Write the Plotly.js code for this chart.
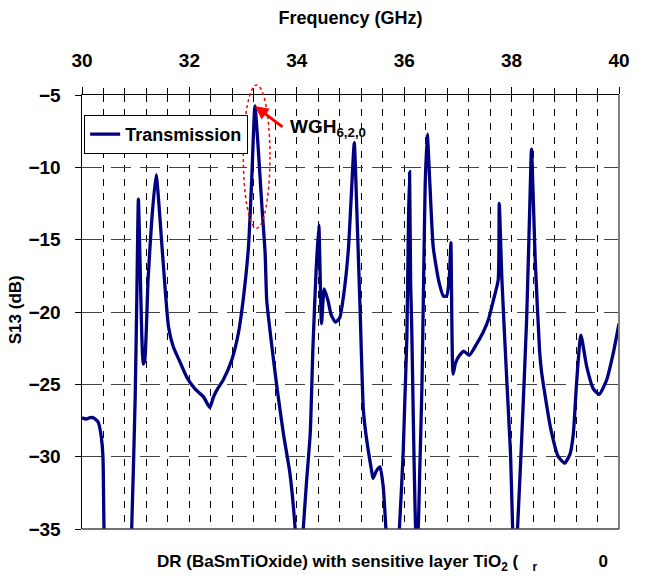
<!DOCTYPE html>
<html>
<head>
<meta charset="utf-8">
<script src="https://cdn.plot.ly/plotly-3.0.1.min.js"></script>
<style>html,body{margin:0;padding:0;background:#fff;}#chart{width:649px;height:581px;}</style>
</head>
<body>
<div id="chart"></div>
<script>
// Frequency (GHz)
const freq = [30.00,30.08,30.15,30.22,30.30,30.35,30.39,30.41,30.44,
  30.89,30.925,30.99,31.02,31.05,31.08,31.11,31.14,31.17,31.23,31.30,31.38,
  31.50,31.61,31.70,31.83,31.95,32.10,32.26,32.38,32.44,32.51,32.63,32.79,32.91,33.00,
  33.10,33.16,33.22,33.28,33.35,33.41,33.44,33.53,33.63,33.75,33.87,33.97,34.00,
  34.09,34.12,34.18,34.25,34.30,34.36,34.41,34.46,34.51,34.58,34.64,34.72,34.80,34.87,34.96,35.01,35.07,
  35.12,35.18,35.24,35.30,35.39,35.42,35.48,35.55,35.61,35.66,35.70,
  35.87,35.91,35.98,36.01,36.05,36.08,36.10,36.12,36.14,36.17,36.20,36.225,
  36.26,36.29,36.33,36.36,36.39,36.43,36.48,36.54,36.64,36.73,36.79,36.84,36.87,36.88,36.91,
  36.95,37.01,37.11,37.21,37.35,37.47,37.57,37.66,37.75,37.77,37.82,37.91,37.98,38.02,38.05,
  38.08,38.11,38.19,38.28,38.34,38.37,38.44,38.52,38.56,38.72,38.87,38.99,39.09,39.15,39.21,39.29,
  39.40,39.52,39.63,39.77,39.89,40.00];
// S13 (dB)
const s13 = [-27.32,-27.40,-27.30,-27.32,-27.6,-28.4,-30.0,-35.0,-37.5,
  -37.5,-35.0,-26.0,-19.2,-12.2,-16.4,-21.2,-23.6,-23.3,-17.8,-13.6,-10.5,
  -16.0,-21.0,-22.4,-23.5,-24.5,-25.3,-25.85,-26.6,-25.96,-25.4,-24.7,-23.3,-21.5,-19.2,
  -15.5,-10.9,-5.76,-8.6,-12.7,-15.9,-19.2,-22.2,-25.2,-28.4,-31.1,-35.0,-37.0,
  -37.0,-35.0,-31.8,-28.4,-22.5,-17.1,-14.0,-20.8,-18.4,-19.2,-20.2,-20.7,-20.4,-18.9,-15.7,-12.3,-8.3,
  -13.2,-20.0,-26.8,-28.8,-30.9,-31.5,-31.0,-30.7,-32.1,-35.0,-37.0,
  -37.0,-35.0,-29.8,-26.3,-21.7,-13.6,-10.3,-18.0,-21.0,-27.5,-33.2,-36.0,
  -35.0,-30.9,-25.2,-18.2,-11.3,-7.7,-11.3,-15.5,-17.8,-18.9,-18.9,-17.6,-15.2,-18.2,-24.3,
  -23.6,-23.1,-22.7,-23.0,-22.2,-21.4,-20.5,-19.2,-17.8,-12.5,-17.8,-24.7,-29.8,-35.0,-37.0,
  -37.0,-35.0,-28.6,-20.5,-12.5,-8.75,-16.4,-22.6,-24.2,-27.9,-30.0,-30.45,-29.8,-28.4,-24.9,-21.6,
  -23.8,-25.3,-25.7,-24.7,-22.9,-20.8];

const seriesName = 'Transmission';
const xTitle = 'Frequency (GHz)';
const yTitle = 'S13 (dB)';
const NB = '\u00A0';
const bottomText = 'DR (BaSmTiOxide) with sensitive layer TiO<sub>2</sub> (' + NB.repeat(3) + '<sub>r</sub>' + NB.repeat(13) + '0';
const peakLabel = 'WGH<sub>6,2,0</sub>';
const peakX = 33.22, peakY = -5.76;

const FONT = '"Liberation Sans", Arial, sans-serif';

const trace = {
  x: freq, y: s13, type: 'scatter', mode: 'lines', name: seriesName,
  line: {color: '#000080', width: 3.3, shape: 'spline', smoothing: 0.5}
};

const layout = {
  width: 649, height: 581,
  margin: {l: 82, r: 30, t: 95, b: 52},
  paper_bgcolor: '#fff', plot_bgcolor: '#fff',
  showlegend: true,
  title: {text: xTitle, font: {family: FONT, size: 18, color: '#000', weight: 'bold'},
          xref: 'paper', x: 0.5, xanchor: 'center', yref: 'container', y: 0.969, yanchor: 'middle'},
  legend: {x: 0.004, y: 0.954, xanchor: 'left', yanchor: 'top', bgcolor: '#fff',
           bordercolor: '#000', borderwidth: 1, itemwidth: 30,
           font: {family: FONT, size: 18, color: '#000', weight: 'bold'}},
  xaxis: {
    side: 'top', range: [30, 40], dtick: 2, tick0: 30,
    showline: true, linecolor: '#000', linewidth: 1.5,
    ticks: 'outside', ticklen: 7, tickcolor: '#000', tickwidth: 1, ticklabelstandoff: 12,
    tickfont: {family: FONT, size: 19, color: '#000', weight: 'bold'},
    showgrid: true, gridcolor: '#000', gridwidth: 1, griddash: '7px,7px',
    minor: {dtick: 0.4, tick0: 30, showgrid: true, gridcolor: '#000', gridwidth: 1, griddash: '7px,7px',
            ticks: 'outside', ticklen: 6, tickcolor: '#000', tickwidth: 1},
    zeroline: false, fixedrange: true
  },
  yaxis: {
    range: [-35, -5], dtick: 5, tick0: -35,
    showline: true, linecolor: '#000', linewidth: 1.5,
    ticks: 'outside', ticklen: 6, tickcolor: '#000', ticklabelstandoff: 10,
    tickfont: {family: FONT, size: 19, color: '#000', weight: 'bold'},
    showgrid: true, gridcolor: '#444', gridwidth: 1, griddash: '20px,9px',
    zeroline: false, fixedrange: true
  },
  shapes: [
    {type: 'line', xref: 'paper', yref: 'paper', x0: 1, x1: 1, y0: 0, y1: 1, line: {color: '#808080', width: 2}},
    {type: 'line', xref: 'paper', yref: 'paper', x0: 0, x1: 1, y0: 0, y1: 0, line: {color: '#444', width: 1.5}},
    {type: 'circle', xref: 'paper', yref: 'paper', x0: 0.3004, x1: 0.350, y0: 0.693, y1: 1.023,
     line: {color: '#ff0000', width: 1.5, dash: 'dot'}}
  ],
  annotations: [
    {text: '', x: peakX, y: peakY, xref: 'x', yref: 'y', showarrow: true, ax: 29, ay: 22,
     arrowcolor: '#ff0000', arrowwidth: 3, arrowhead: 2, arrowsize: 0.9},
    {text: peakLabel, xref: 'paper', yref: 'paper', x: 0.3836, y: 0.924, xanchor: 'left', yanchor: 'middle',
     showarrow: false, font: {family: FONT, size: 19, color: '#000', weight: 'bold'}},
    {text: yTitle, xref: 'paper', yref: 'paper', x: -0.124, y: 0.505, xanchor: 'center', yanchor: 'middle',
     textangle: -90, showarrow: false, font: {family: FONT, size: 17, color: '#000', weight: 'bold'}},
    {text: bottomText, xref: 'paper', yref: 'paper', x: 0.136, y: -0.078, xanchor: 'left', yanchor: 'middle',
     showarrow: false, font: {family: FONT, size: 17, color: '#000', weight: 'bold'}}
  ]
};

Plotly.newPlot('chart', [trace], layout, {staticPlot: true, displayModeBar: false});
</script>
</body>
</html>
